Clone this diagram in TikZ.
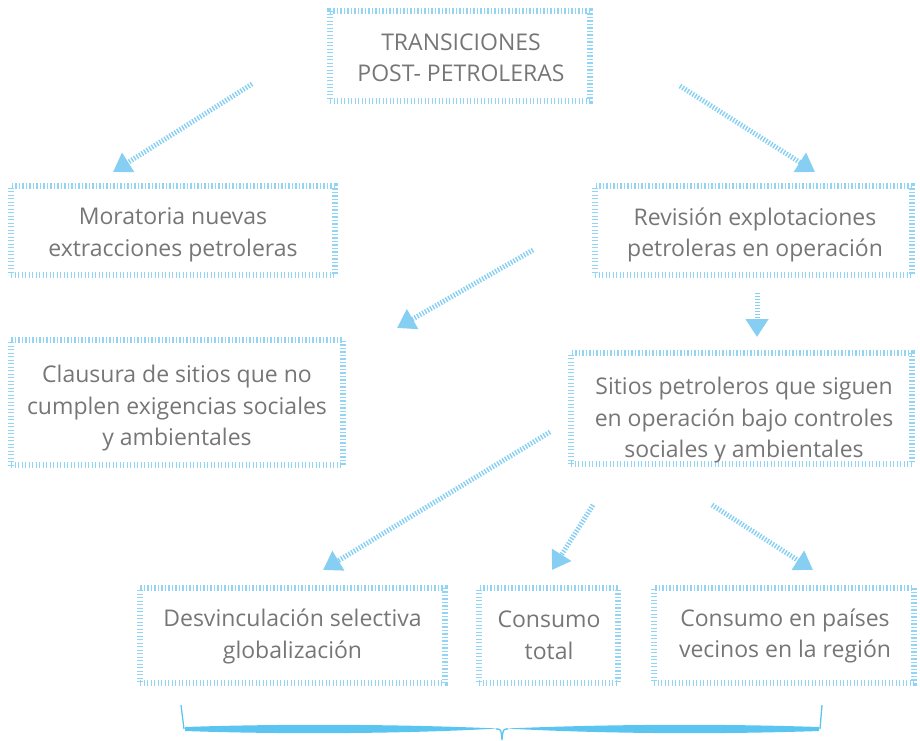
\documentclass[tikz,border=0pt]{standalone}
\usepackage{fontspec}
\setmainfont{Open Sans}
\usetikzlibrary{arrows.meta}
\definecolor{boxblue}{HTML}{92D4F4}
\definecolor{arrblue}{HTML}{86CFF2}
\definecolor{braceblue}{HTML}{5BC5F2}
\definecolor{txtgray}{HTML}{767676}
\tikzset{
  box/.style={draw=boxblue, line width=5.5pt, dash pattern=on 1.3pt off 2.2pt,
    inner sep=0pt},
  txt/.style={align=center, text=txtgray, inner sep=0pt,
    font=\fontsize{23}{31.5}\selectfont},
  arr/.style={draw=arrblue, line width=5pt, dash pattern=on 1.4pt off 1.6pt,
    -{Triangle[length=18pt,width=22pt,fill=arrblue]}}
}
\begin{document}
\begin{tikzpicture}[x=1pt,y=-1pt]
\useasboundingbox (0,0) rectangle (920,740);
% boxes
\node[box, minimum width=260pt, minimum height=90pt]  (topB) at (460,56) {};
\node[box, minimum width=324pt, minimum height=89pt]  (morB) at (173,230.5) {};
\node[box, minimum width=317pt, minimum height=89pt]  (revB) at (753.5,230.5) {};
\node[box, minimum width=332pt, minimum height=125pt] (claB) at (177,402.5) {};
\node[box, minimum width=341pt, minimum height=111pt] (sitB) at (741.5,408.5) {};
\node[box, minimum width=305pt, minimum height=95pt]  (desB) at (292.5,635.5) {};
\node[box, minimum width=139pt, minimum height=95pt]  (totB) at (548.5,635.5) {};
\node[box, minimum width=260pt, minimum height=95pt]  (paiB) at (784,635.5) {};
% texts
\node[txt] (top) at (461,58) {TRANSICIONES\\POST- PETROLERAS};
\node[txt] (mor) at (173,235) {Moratoria nuevas\\extracciones petroleras};
\node[txt] (rev) at (755,235) {Revisión explotaciones\\petroleras en operación};
\node[txt] (cla) at (177,408.5) {Clausura de sitios que no\\cumplen exigencias sociales\\y ambientales};
\node[txt] (sit) at (744,420.5) {Sitios petroleros que siguen\\en operación bajo controles\\sociales y ambientales};
\node[txt] (des) at (292.5,636.5) {Desvinculación selectiva\\globalización};
\node[txt] (tot) at (549,635.5) {Consumo\\total};
\node[txt] (pai) at (785,636) {Consumo en países\\vecinos en la región};

\coordinate (a1s) at (252,84);  \coordinate (a1e) at (113,172);
\coordinate (a2s) at (680,86);  \coordinate (a2e) at (815,172);
\coordinate (a3s) at (533,250); \coordinate (a3e) at (397,328);
\coordinate (a4s) at (757,293); \coordinate (a4e) at (757,337);
\coordinate (a5s) at (550,432); \coordinate (a5e) at (323,570);
\coordinate (a6s) at (593,505); \coordinate (a6e) at (552,570);
\coordinate (a7s) at (712,505); \coordinate (a7e) at (813,570);
\foreach \i in {1,...,7} { \draw[arr] (a\i s) -- (a\i e); }

% brace
\coordinate (bl) at (181,705);
\coordinate (br) at (822,705);
\coordinate (bt) at (502,740);
\fill[braceblue] (185,727) .. controls (300,723) and (420,725) .. (498,728.5)
  .. controls (420,733) and (300,735) .. (185,731) -- cycle;
\fill[braceblue] (506,728.5) .. controls (590,725) and (700,723) .. (819,727)
  -- (819,731) .. controls (700,735) and (590,733) .. (506,728.5) -- cycle;
\draw[braceblue, line width=1.3pt] (bl) -- (184,729);
\draw[braceblue, line width=1.3pt] (br) -- (820,729);
\draw[braceblue, line width=1.3pt] (496,729) .. controls (501,729) .. (bt) .. controls (503,729) .. (508,729);
\end{tikzpicture}
\end{document}
